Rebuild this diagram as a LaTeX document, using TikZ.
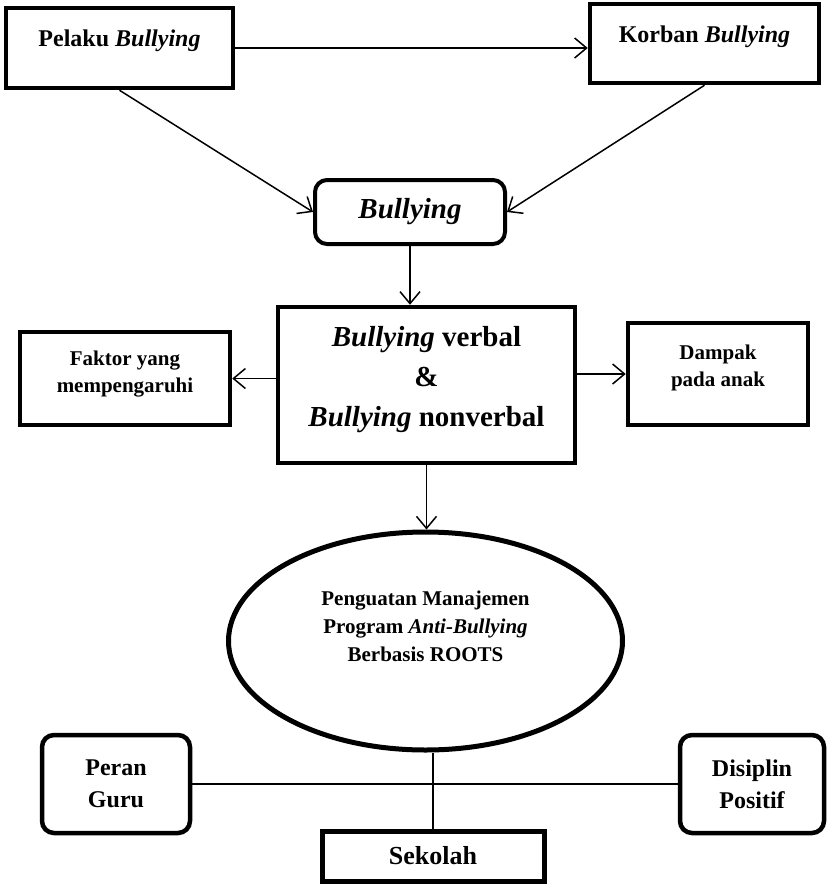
\documentclass[tikz,border=0pt]{standalone}
\usepackage{fontspec}
\setmainfont{Liberation Serif}
\usetikzlibrary{shapes.geometric,arrows.meta,positioning}

\begin{document}
\begin{tikzpicture}[
    x=1pt, y=-1pt,
    >={Straight Barb[length=12pt,width=20pt]},
    box/.style={rectangle, draw, line width=4.5pt, align=center, inner sep=0pt},
    rbox/.style={box, rounded corners=12pt},
    oval/.style={ellipse, draw, line width=5pt, align=center, inner sep=0pt},
    arr/.style={->, line width=1.5pt},
    link/.style={line width=1.5pt}
]
    \useasboundingbox (0,0) rectangle (827,884);

    \node[box, minimum width=227pt, minimum height=80pt, text depth=19pt, font=\fontsize{24}{30}\bfseries] (pelaku) at (119.5,48) {Pelaku \textit{Bullying}};
    \node[box, minimum width=229pt, minimum height=79pt, text depth=19pt, font=\fontsize{24}{30}\bfseries] (korban) at (704.5,43.5) {Korban \textit{Bullying}};
    \node[rbox, line width=4pt, minimum width=190pt, minimum height=64pt, font=\fontsize{29}{35}\bfseries] (bully) at (410,212) {\textit{Bullying}};
    \node[box, minimum width=297pt, minimum height=156pt, text depth=17pt, font=\fontsize{29}{40}\bfseries] (jenis) at (426.5,385) {\textit{Bullying} verbal\\\&\\\textit{Bullying} nonverbal};
    \node[box, minimum width=210pt, minimum height=93pt, text depth=13pt, font=\fontsize{21}{27}\bfseries] (faktor) at (125,378.5) {Faktor yang\\mempengaruhi};
    \node[box, minimum width=180pt, minimum height=102pt, text depth=16pt, font=\fontsize{21}{27}\bfseries] (dampak) at (718,374) {Dampak\\pada anak};
    \node[oval, minimum width=394pt, minimum height=218pt, text depth=29pt, font=\fontsize{21}{28}\bfseries] (roots) at (425.5,641) {Penguatan Manajemen\\Program \textit{Anti-Bullying}\\Berbasis ROOTS};
    \node[rbox, minimum width=148pt, minimum height=98pt, font=\fontsize{24}{32}\bfseries] (peran) at (116,784) {Peran\\Guru};
    \node[rbox, minimum width=144pt, minimum height=98pt, font=\fontsize{24}{32}\bfseries] (disiplin) at (752,784) {Disiplin\\Positif};
    \node[box, line width=5pt, minimum width=222pt, minimum height=50pt, font=\fontsize{26}{32}\bfseries] (sekolah) at (433,856) {Sekolah};

    \draw[arr] (pelaku.east) -- (pelaku.east -| korban.west);
    \draw[arr] (pelaku.south) -- (bully.west);
    \draw[arr] (korban.south) -- (bully.east);
    \draw[arr] (bully.south) -- (bully.south |- jenis.north);
    \draw[arr] (jenis.west |- faktor.east) -- (faktor.east);
    \draw[arr] (jenis.east |- dampak.west) -- (dampak.west);
    \draw[arr] (jenis.south) -- (jenis.south |- roots.north);
    \draw[link] (peran.east) -- (disiplin.west);
    \draw[link] (sekolah.north) -- (sekolah.north |- roots.south);
\end{tikzpicture}
\end{document}
